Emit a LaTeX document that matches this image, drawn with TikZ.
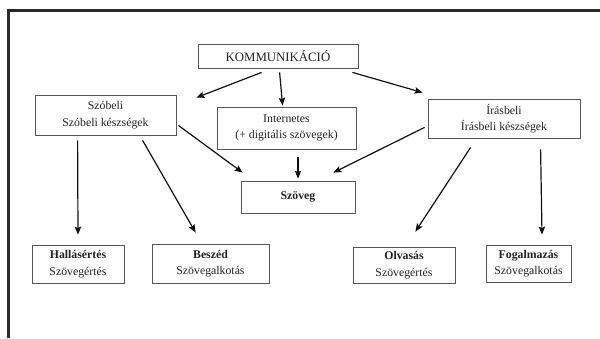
\documentclass[tikz,border=0pt]{standalone}
\usepackage{fontspec}
\setmainfont{Liberation Serif}
\usetikzlibrary{arrows.meta,calc}
\definecolor{boxgray}{HTML}{555555}
\definecolor{txt}{HTML}{222222}
\definecolor{arrc}{HTML}{111111}
\definecolor{framec}{HTML}{2A2A2A}
\begin{document}
\begin{tikzpicture}[x=1pt,y=-1pt,
  box/.style={draw=boxgray, line width=0.8pt, fill=white, inner sep=0pt, align=center,
    font=\fontsize{11.8}{16.5}\selectfont, text=txt},
  arr/.style={line width=1.2pt, draw=arrc, -{Stealth[length=8pt,width=6.5pt,inset=1.5pt]}}]
\useasboundingbox (0,0) rectangle (600,338);
\fill[white] (0,0) rectangle (600,338);
\draw[line width=3pt, framec, line join=miter] (600,10) -- (8.5,10) -- (8.5,338);

\node[box, minimum width=160pt, minimum height=24pt, font=\fontsize{12.8}{15}\selectfont] (komm) at (278,56) {KOMMUNIKÁCIÓ};
\node[box, minimum width=141pt, minimum height=40pt] (szob) at (105.5,115) {Szóbeli\\Szóbeli készségek};
\node[box, minimum width=139pt, minimum height=42pt] (inet) at (286.5,128) {Internetes\\(+ digitális szövegek)};
\node[box, minimum width=152pt, minimum height=39pt] (iras) at (504,118.5) {Írásbeli\\Írásbeli készségek};
\node[box, minimum width=114pt, minimum height=32pt] (szov) at (298,197) {\textbf{Szöveg}};
\node[box, minimum width=92pt, minimum height=38pt] (hall) at (78,264) {\textbf{Hallásértés}\\Szövegértés};
\node[box, minimum width=117pt, minimum height=39pt] (besz) at (210.5,263.5) {\textbf{Beszéd}\\Szövegalkotás};
\node[box, minimum width=102pt, minimum height=36pt] (olv) at (404,265) {\textbf{Olvasás}\\Szövegértés};
\node[box, minimum width=85pt, minimum height=37pt] (fog) at (528.5,263.5) {\textbf{Fogalmazás}\\Szövegalkotás};

\draw[arr] ($(komm.south west)+(64,4)$) -- ($(szob.north east)+(20,3)$);
\draw[arr] ($(komm.south west)+(82,4)$) -- ($(inet.north west)+(66,-1)$);
\draw[arr] ($(komm.south east)+(-6,4)$) -- ($(iras.north west)+(-5,-6)$);
\draw[arr] ($(szob.south east)+(2,-10)$) -- ($(szov.north west)+(2,-8)$);
\draw[arr] ($(inet.south)+(11.5,8)$) -- ($(szov.north)+(0,-2)$);
\draw[arr] ($(iras.south west)+(-3,-11)$) -- ($(szov.north east)+(-22,-8)$);
\draw[arr] ($(szob.south west)+(43,5)$) -- ($(hall.north)+(0,-10)$);
\draw[arr] ($(szob.south west)+(108,5)$) -- ($(besz.north west)+(44,-11)$);
\draw[arr] ($(iras.south west)+(43,9)$) -- ($(olv.north east)+(-40,-15)$);
\draw[arr] ($(iras.south west)+(113,11)$) -- ($(fog.north)+(13.5,-10)$);
\end{tikzpicture}
\end{document}
